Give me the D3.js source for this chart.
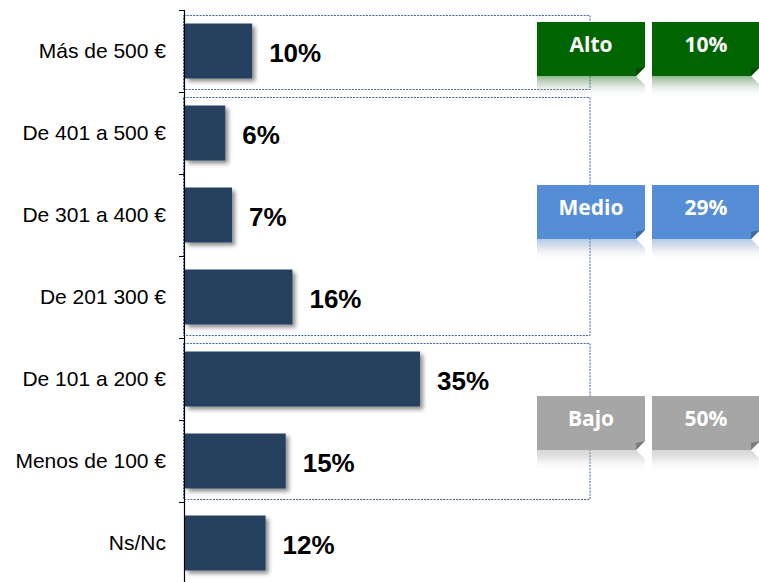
<!DOCTYPE html>
<html>
<head>
<meta charset="utf-8">
<script src="https://cdn.jsdelivr.net/npm/d3@7"></script>
<style>
  html, body { margin: 0; padding: 0; background: #fff; }
  svg { display: block; }
</style>
</head>
<body>
<svg id="chart" width="759" height="582"></svg>
<script>
// Spending brackets and share of respondents (%)
const categories = ["Más de 500 €", "De 401 a 500 €", "De 301 a 400 €", "De 201 300 €",
                    "De 101 a 200 €", "Menos de 100 €", "Ns/Nc"];
const values = [10, 6, 7, 16, 35, 15, 12];

// Grouped levels: name, share, first and last bracket of each group
const groupNames = ["Alto", "Medio", "Bajo"];
const groupValues = [10, 29, 50];
const groupFirst = ["Más de 500 €", "De 401 a 500 €", "De 101 a 200 €"];
const groupLast = ["Más de 500 €", "De 201 300 €", "Menos de 100 €"];
const groupColors = ["#006400", "#558ED5", "#A6A6A6"];

const svg = d3.select("#chart");
const defs = svg.append("defs");

// soft drop shadow under the bars
const shadow = defs.append("filter").attr("id", "barShadow")
  .attr("x", "-10%").attr("y", "-10%").attr("width", "130%").attr("height", "140%");
shadow.append("feDropShadow").attr("dx", 3).attr("dy", 3).attr("stdDeviation", 2.2)
  .attr("flood-color", "#000").attr("flood-opacity", 0.45);

const y = d3.scaleBand().domain(categories).range([10, 584])
  .paddingInner(0.33).paddingOuter(0.165);
const x = d3.scaleLinear().domain([0, 35]).range([185, 420]);

const step = y.step();
const rowTop = c => y(c) - step * y.paddingInner() / 2;
const rowBottom = c => rowTop(c) + step;

// dotted outlines around each group of brackets
groupNames.forEach((g, i) => {
  const top = rowTop(groupFirst[i]) + 5;
  const bottom = rowBottom(groupLast[i]) - 3;
  svg.append("rect")
    .attr("x", 183.5).attr("y", top + 0.5)
    .attr("width", 590 - 183.5).attr("height", bottom - top)
    .attr("fill", "none").attr("stroke", "#3F66A0")
    .attr("stroke-width", 1).attr("stroke-dasharray", "2,1.2");
});

// bars
svg.append("g").selectAll("rect").data(categories).join("rect")
  .attr("x", x(0))
  .attr("y", d => y(d))
  .attr("width", (d, i) => x(values[i]) - x(0))
  .attr("height", y.bandwidth())
  .attr("fill", "#263F60")
  .attr("filter", "url(#barShadow)");

// value labels
svg.append("g").selectAll("text").data(categories).join("text")
  .attr("x", (d, i) => x(values[i]) + 17)
  .attr("y", d => y(d) + y.bandwidth() / 2 + 2)
  .attr("dy", "0.35em")
  .attr("font-family", "Liberation Sans, Arial, sans-serif")
  .attr("font-weight", "bold").attr("font-size", 26)
  .attr("fill", "#000")
  .text((d, i) => values[i] + "%");

// vertical axis with ticks on row boundaries
const axisG = svg.append("g");
axisG.append("line").attr("x1", 184.5).attr("x2", 184.5).attr("y1", 10).attr("y2", 582)
  .attr("stroke", "#000").attr("stroke-width", 1.2);
const bounds = categories.map(rowTop).concat([rowBottom(categories[categories.length - 1])]);
axisG.selectAll("line.tick").data(bounds).join("line").attr("class", "tick")
  .attr("x1", 179).attr("x2", 185)
  .attr("y1", d => Math.round(d) + 0.5).attr("y2", d => Math.round(d) + 0.5)
  .attr("stroke", "#000").attr("stroke-width", 1);
axisG.selectAll("text").data(categories).join("text")
  .attr("x", 166)
  .attr("y", d => y(d) + y.bandwidth() / 2)
  .attr("dy", "0.35em")
  .attr("text-anchor", "end")
  .attr("font-family", "Liberation Sans, Arial, sans-serif")
  .attr("font-size", 21)
  .attr("fill", "#000")
  .text(d => d);

// level callouts: folded-corner tags with a fading reflection
const boxW = 108, boxH = 54, notch = 9;
const tagNudge = [-2.5, -3, 3];
const tagPath = (x0, y0) =>
  `M${x0},${y0}H${x0 + boxW}V${y0 + boxH - notch}L${x0 + boxW - notch},${y0 + boxH}H${x0}Z`;
const foldPath = (x0, y0) =>
  `M${x0 + boxW},${y0 + boxH - notch}L${x0 + boxW - notch},${y0 + boxH}L${x0 + boxW - notch},${y0 + boxH - notch + 2}Z`;
const reflPath = (x0, y0) =>
  `M${x0},${y0}H${x0 + boxW - notch}L${x0 + boxW},${y0 + notch}V${y0 + 22}H${x0}Z`;

groupNames.forEach((g, i) => {
  const top = rowTop(groupFirst[i]);
  const bottom = rowBottom(groupLast[i]);
  const cy = (top + bottom) / 2 + tagNudge[i];
  const y0 = Math.round(cy - boxH / 2);
  const col = groupColors[i];

  const grad = defs.append("linearGradient").attr("id", "refl" + i)
    .attr("x1", 0).attr("y1", 0).attr("x2", 0).attr("y2", 1);
  grad.append("stop").attr("offset", 0).attr("stop-color", col).attr("stop-opacity", 0.45);
  grad.append("stop").attr("offset", 0.35).attr("stop-color", d3.interpolateRgb(col, "#888")(0.5)).attr("stop-opacity", 0.25);
  grad.append("stop").attr("offset", 1).attr("stop-color", "#fff").attr("stop-opacity", 0);

  [[537, g], [652, groupValues[i] + "%"]].forEach(([x0, label]) => {
    const t = svg.append("g");
    t.append("path").attr("d", reflPath(x0, y0 + boxH)).attr("fill", `url(#refl${i})`);
    t.append("path").attr("d", tagPath(x0, y0)).attr("fill", col);
    t.append("path").attr("d", foldPath(x0, y0)).attr("fill", d3.color(col).darker(0.8));
    t.append("text")
      .attr("x", x0 + boxW / 2).attr("y", y0 + 29.5)
      .attr("text-anchor", "middle")
      .attr("font-family", "Open Sans, sans-serif")
      .attr("font-weight", "bold").attr("font-size", 21)
      .attr("fill", "#fff")
      .text(label);
  });
});
</script>
</body>
</html>
